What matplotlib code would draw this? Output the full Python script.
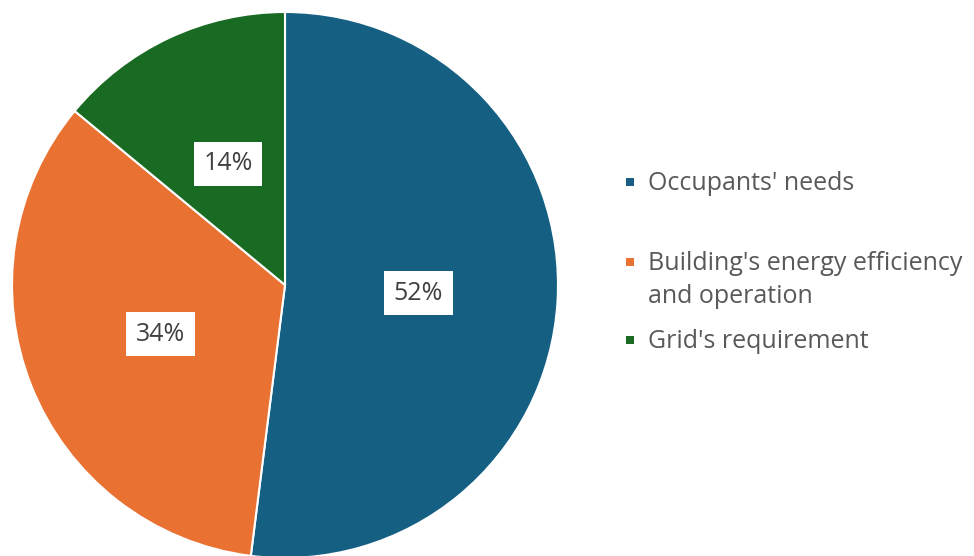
import matplotlib.pyplot as plt
from matplotlib.patches import Rectangle

labels = ["Occupants' needs", "Building's energy efficiency\nand operation", "Grid's requirement"]
shares = [52, 34, 14]
colors = ["#156082", "#E97132", "#196B24"]

W, H = 974, 556
plt.rcParams['font.family'] = ['Open Sans', 'DejaVu Sans']

fig = plt.figure(figsize=(W / 100, H / 100), dpi=100)
ax = fig.add_axes([0, 0, 1, 1])

# y axis is inverted below, so startangle=-90 points up and the slices run clockwise on screen
wedges, texts, autotexts = ax.pie(
    shares, colors=colors, startangle=-90, counterclock=True,
    center=(285, 285), radius=273, frame=True,
    autopct='%1.0f%%', pctdistance=0.49,
    wedgeprops=dict(edgecolor='white', linewidth=1.5),
    textprops=dict(fontsize=18, color='#404040'),
)
ax.set_xlim(0, W)
ax.set_ylim(H, 0)
ax.set_aspect('equal')
ax.axis('off')
for t in autotexts:
    t.set_bbox(dict(boxstyle='square,pad=0.38', facecolor='white', edgecolor='none'))

# legend drawn by hand, marker aligned with first line of each entry
leg_base = [190, 270, 348]
for lab, col, y in zip(labels, colors, leg_base):
    ax.add_patch(Rectangle((626, y - 12), 8, 8, facecolor=col, edgecolor='none'))
    for i, line in enumerate(lab.split('\n')):
        ax.text(648, y + i * 33, line, fontsize=18, color='#595959',
                va='baseline', ha='left')

fig.savefig('out.png', dpi=100)
